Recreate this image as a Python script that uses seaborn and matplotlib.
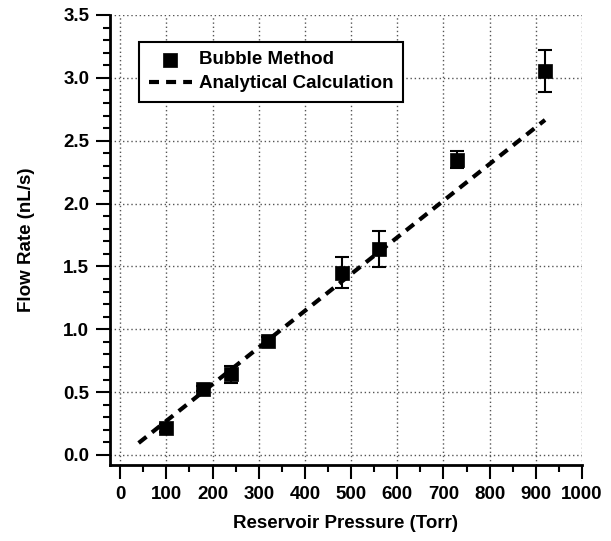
import matplotlib
matplotlib.use("Agg")
import matplotlib.pyplot as plt
import seaborn as sns
import pandas as pd
from matplotlib.ticker import MultipleLocator

pressure = [100, 180, 240, 320, 480, 560, 730, 920]
flow = [0.215, 0.525, 0.64, 0.905, 1.45, 1.64, 2.35, 3.055]
flow_err = [0.03, 0.02, 0.07, 0.03, 0.125, 0.145, 0.07, 0.165]
calc_x = [40, 920]
calc_y = [0.095, 2.665]

sns.set_theme(style="white")
plt.rcParams['font.family'] = ['Liberation Sans', 'DejaVu Sans']
plt.rcParams['font.weight'] = 'bold'
plt.rcParams['text.color'] = 'black'
plt.rcParams['axes.labelcolor'] = 'black'
plt.rcParams['xtick.color'] = 'black'
plt.rcParams['ytick.color'] = 'black'

fig = plt.figure(figsize=(6.11, 5.41), dpi=100)
ax = fig.add_axes([0.18, 0.1405, 0.7725, 0.8318])

df = pd.DataFrame({"x": pressure, "y": flow, "e": flow_err})
dfl = pd.DataFrame({"x": calc_x, "y": calc_y})

ax.errorbar(df["x"], df["y"], yerr=df["e"], fmt="none", ecolor="black",
            elinewidth=1.5, capsize=4.8, capthick=1.5, zorder=3)
sns.lineplot(data=dfl, x="x", y="y", ax=ax, color="black", linewidth=3,
             linestyle=(0, (2.4, 1.7)), label="Analytical Calculation", zorder=4)
sns.scatterplot(data=df, x="x", y="y", ax=ax, marker="s", s=92, color="black",
                edgecolor="black", linewidth=0.5, label="Bubble Method", zorder=5)

ax.set_xlim(-22, 1000)
ax.set_ylim(-0.08, 3.5)
ax.xaxis.set_minor_locator(MultipleLocator(50))
ax.yaxis.set_minor_locator(MultipleLocator(0.1))
ax.set_yticks([0, 0.5, 1.0, 1.5, 2.0, 2.5, 3.0, 3.5])
ax.set_yticklabels(["0.0", "0.5", "1.0", "1.5", "2.0", "2.5", "3.0", "3.5"])
ax.set_xticks(range(0, 1001, 100))
ax.set_xticklabels([str(v) for v in range(0, 1001, 100)])

ax.grid(True, which="major", color="#555555", linestyle=(0, (1, 2)), linewidth=1)
for s in ["top", "right"]:
    ax.spines[s].set_visible(False)
for s in ["left", "bottom"]:
    ax.spines[s].set_color("black")
    ax.spines[s].set_linewidth(2)

ax.tick_params(which="major", direction="out", length=10, width=1.5, color="black",
               labelcolor="black", labelsize=13.5, pad=5, left=True, bottom=True)
ax.tick_params(which="minor", direction="out", length=5, width=1.5, color="black",
               left=True, bottom=True)
for lab in ax.get_xticklabels() + ax.get_yticklabels():
    lab.set_fontweight("bold")

ax.set_xlabel("Reservoir Pressure (Torr)", fontsize=13.5, fontweight="bold",
              labelpad=9, color="black")
ax.set_ylabel("Flow Rate (nL/s)", fontsize=13.5, fontweight="bold",
              labelpad=20, color="black")

h, l = ax.get_legend_handles_labels()
order = [l.index("Bubble Method"), l.index("Analytical Calculation")]
leg = ax.legend([h[i] for i in order], [l[i] for i in order], loc="upper left",
                bbox_to_anchor=(0.062, 0.94), fancybox=False, framealpha=1,
                edgecolor="black", prop={"weight": "bold", "size": 13.5},
                handlelength=2.3, handletextpad=0.4, borderpad=0.5,
                labelspacing=0.35, borderaxespad=0)
leg.get_frame().set_linewidth(1.5)
for t in leg.get_texts():
    t.set_color("black")

fig.savefig("out.png", dpi=100)
